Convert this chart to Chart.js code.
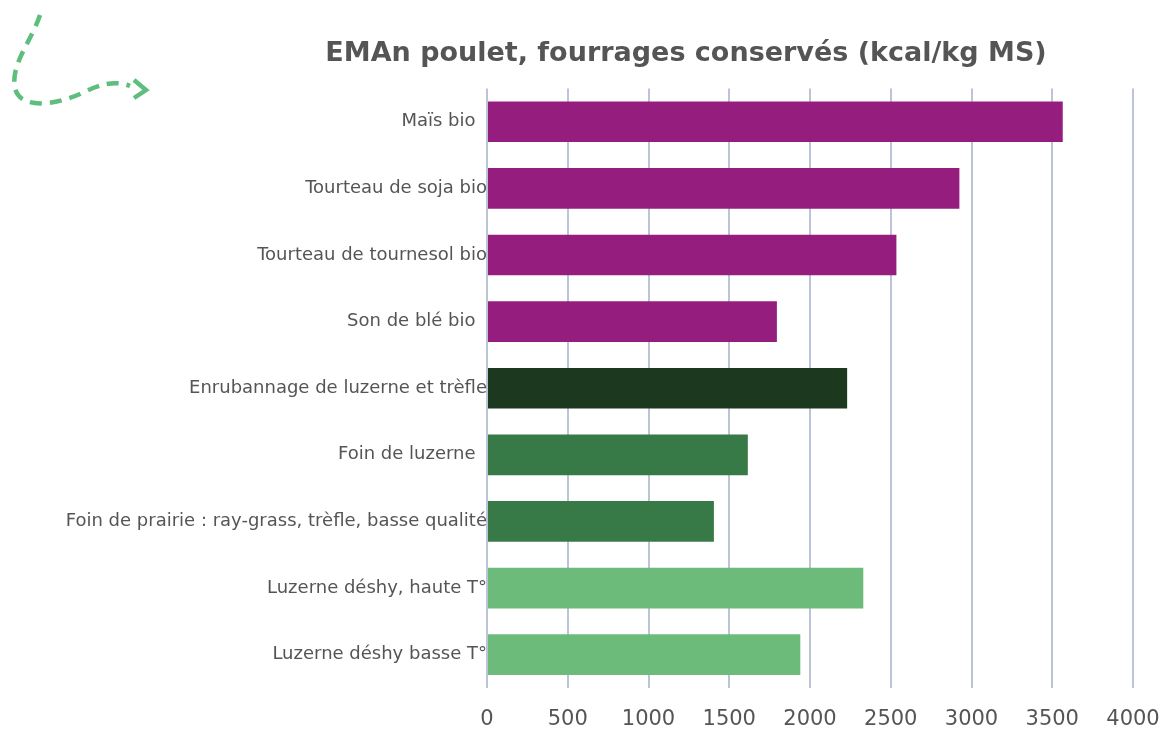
<!DOCTYPE html>
<html>
<head>
<meta charset="utf-8">
<script src="https://cdn.jsdelivr.net/npm/chart.js@4.4.0/dist/chart.umd.min.js"></script>
<style>
  body{margin:0;background:#fff;}
  #wrap{width:1168px;height:731px;position:relative;}
</style>
</head>
<body>
<div id="wrap"><canvas id="emanChart"></canvas></div>
<script>
let titre="EMAn poulet, fourrages conservés (kcal/kg MS)";
let aliments=[
    "Maïs bio  ",
    "Tourteau de soja bio",
    "Tourteau de tournesol bio",
    "Son de blé bio  ",
    "Enrubannage de luzerne et trèfle",
    "Foin de luzerne  ",
    "Foin de prairie : ray-grass, trèfle, basse qualité",
    "Luzerne déshy, haute T°",
    "Luzerne déshy basse T°"
];
let eman=[3565,2925,2535,1795,2230,1615,1405,2330,1940];
let couleurs=[
    "#951d7e","#951d7e","#951d7e","#951d7e",
    "#1c381e",
    "#387a47","#387a47",
    "#6cbb7b","#6cbb7b"
];
let graduations=[0,500,1000,1500,2000,2500,3000,3500,4000];

// petite fleche en pointilles en haut a gauche
const flechePlugin={
    id:"fleche",
    afterLayout(chart){
        // le titre est centre un peu a gauche du centre de la zone de tracé
        chart.titleBlock.left=239;
        chart.titleBlock.right=1133;
    },
    beforeDraw(chart){
        const c=chart.ctx;
        c.save();
        c.strokeStyle="#5dbe7d";
        c.lineWidth=4.5;
        c.setLineDash([12,8]);
        c.beginPath();
        c.moveTo(40,15);
        c.bezierCurveTo(32,40,10,65,15,88);
        c.bezierCurveTo(20,110,55,105,80,94);
        c.bezierCurveTo(100,84,115,80,130,86);
        c.stroke();
        c.setLineDash([]);
        c.beginPath();
        c.moveTo(134,80);
        c.lineTo(146,90);
        c.lineTo(134,98);
        c.stroke();
        c.restore();
    }
};

let ctx=document.getElementById("emanChart").getContext("2d");
let emanChart=new Chart(ctx,{
    type:"bar",
    data:{
        labels:aliments,
        datasets:[{
            label:titre,
            data:eman,
            backgroundColor:couleurs,
            borderWidth:0,
            barPercentage:0.61,
            categoryPercentage:1
        }]
    },
    options:{
        indexAxis:"y",
        responsive:true,
        maintainAspectRatio:false,
        animation:false,
        layout:{padding:{left:20,right:35,top:0,bottom:1}},
        plugins:{
            legend:{display:false},
            tooltip:{enabled:false},
            title:{
                display:true,
                text:titre,
                color:"#555555",
                font:{family:"DejaVu Sans",size:27,weight:"bold"},
                padding:{top:38,bottom:18}
            }
        },
        scales:{
            x:{
                min:0,
                max:4000,
                afterBuildTicks:(axis)=>{
                    axis.ticks=graduations.map(v=>({value:v}));
                },
                afterFit:(scale)=>{
                    scale.height=42;
                    scale.paddingLeft=0;
                    scale.paddingRight=0;
                },
                grid:{color:"#bcc5d8",lineWidth:2,drawTicks:false},
                border:{display:false},
                ticks:{
                    color:"#555555",
                    padding:21,
                    maxRotation:0,
                    callback:(v)=>String(v),
                    font:{family:"DejaVu Sans",size:21,lineHeight:1}
                }
            },
            y:{
                afterFit:(scale)=>{
                    scale.width=467;
                    scale.paddingTop=0;
                    scale.paddingBottom=0;
                },
                grid:{display:false},
                border:{display:false},
                ticks:{
                    color:"#555555",
                    padding:-8,
                    autoSkip:false,
                    font:{family:"DejaVu Sans",size:18}
                }
            }
        }
    },
    plugins:[flechePlugin]
});
</script>
</body>
</html>
